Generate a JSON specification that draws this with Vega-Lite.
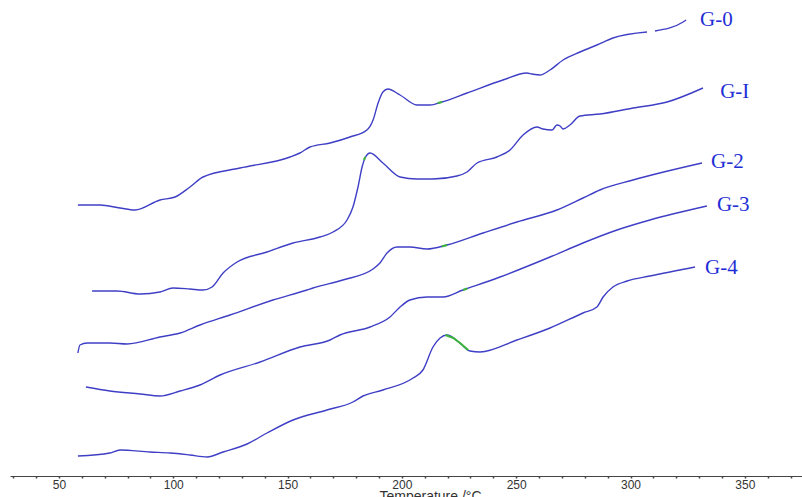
{
  "$schema": "https://vega.github.io/schema/vega-lite/v6.json",
  "autosize": {"type": "none"},
  "padding": {"left": 10, "top": 0, "right": 0, "bottom": 21},
  "width": 792,
  "height": 476,
  "background": "white",
  "config": {"view": {"stroke": null}, "axis": {"labelOverlap": false}},
  "datasets": {
    "curves": [
      {"s":"G-0","seg":"a","t":58.3,"v":271},{"s":"G-0","seg":"a","t":68.0,"v":271},{"s":"G-0","seg":"a","t":76.7,"v":268},{"s":"G-0","seg":"a","t":83.3,"v":266},{"s":"G-0","seg":"a","t":94.2,"v":276},{"s":"G-0","seg":"a","t":100.8,"v":279},{"s":"G-0","seg":"a","t":107.3,"v":289},{"s":"G-0","seg":"a","t":113.0,"v":299},{"s":"G-0","seg":"a","t":129.2,"v":308},{"s":"G-0","seg":"a","t":151.1,"v":319},{"s":"G-0","seg":"a","t":155.4,"v":323},{"s":"G-0","seg":"a","t":159.8,"v":329},{"s":"G-0","seg":"a","t":168.6,"v":333},{"s":"G-0","seg":"a","t":177.3,"v":339},{"s":"G-0","seg":"a","t":184.7,"v":346},{"s":"G-0","seg":"a","t":187.4,"v":356},{"s":"G-0","seg":"a","t":189.6,"v":373},{"s":"G-0","seg":"a","t":191.7,"v":384},{"s":"G-0","seg":"a","t":193.9,"v":387},{"s":"G-0","seg":"a","t":199.2,"v":381},{"s":"G-0","seg":"a","t":206.6,"v":371},{"s":"G-0","seg":"a","t":212.3,"v":371},{"s":"G-0","seg":"a","t":217.5,"v":374},{"s":"G-0","seg":"a","t":228.5,"v":383},{"s":"G-0","seg":"a","t":244.2,"v":396},{"s":"G-0","seg":"a","t":254.7,"v":403},{"s":"G-0","seg":"a","t":256.9,"v":402},{"s":"G-0","seg":"a","t":260.4,"v":401},{"s":"G-0","seg":"a","t":264.8,"v":406},{"s":"G-0","seg":"a","t":270.5,"v":416},{"s":"G-0","seg":"a","t":277.9,"v":424},{"s":"G-0","seg":"a","t":285.3,"v":431},{"s":"G-0","seg":"a","t":292.3,"v":438},{"s":"G-0","seg":"a","t":307.2,"v":444},
      {"s":"G-0","seg":"b","t":310.7,"v":445},{"s":"G-0","seg":"b","t":323.0,"v":454},{"s":"G-0","seg":"b","t":324.3,"v":456},
      {"s":"G-I","seg":"a","t":64.5,"v":185},{"s":"G-I","seg":"a","t":75.4,"v":185},{"s":"G-I","seg":"a","t":85.5,"v":182},{"s":"G-I","seg":"a","t":94.2,"v":184},{"s":"G-I","seg":"a","t":99.9,"v":188},{"s":"G-I","seg":"a","t":107.3,"v":187},{"s":"G-I","seg":"a","t":113.0,"v":186},{"s":"G-I","seg":"a","t":117.0,"v":189},{"s":"G-I","seg":"a","t":121.8,"v":203},{"s":"G-I","seg":"a","t":127.9,"v":214},{"s":"G-I","seg":"a","t":141.0,"v":224},{"s":"G-I","seg":"a","t":152.4,"v":233},{"s":"G-I","seg":"a","t":164.2,"v":239},{"s":"G-I","seg":"a","t":169.9,"v":244},{"s":"G-I","seg":"a","t":176.0,"v":256},{"s":"G-I","seg":"a","t":178.6,"v":269},{"s":"G-I","seg":"a","t":180.8,"v":289},{"s":"G-I","seg":"a","t":182.6,"v":309},{"s":"G-I","seg":"a","t":183.9,"v":318},{"s":"G-I","seg":"a","t":186.1,"v":323},{"s":"G-I","seg":"a","t":191.7,"v":313},{"s":"G-I","seg":"a","t":199.2,"v":299},{"s":"G-I","seg":"a","t":206.6,"v":297},{"s":"G-I","seg":"a","t":213.6,"v":297},{"s":"G-I","seg":"a","t":224.1,"v":300},{"s":"G-I","seg":"a","t":228.5,"v":304},{"s":"G-I","seg":"a","t":232.9,"v":313},{"s":"G-I","seg":"a","t":241.6,"v":319},{"s":"G-I","seg":"a","t":247.3,"v":326},{"s":"G-I","seg":"a","t":253.0,"v":341},{"s":"G-I","seg":"a","t":259.1,"v":349},{"s":"G-I","seg":"a","t":261.7,"v":347},{"s":"G-I","seg":"a","t":265.7,"v":346},{"s":"G-I","seg":"a","t":267.8,"v":351},{"s":"G-I","seg":"a","t":269.2,"v":350},{"s":"G-I","seg":"a","t":270.5,"v":347},{"s":"G-I","seg":"a","t":273.5,"v":351},{"s":"G-I","seg":"a","t":277.9,"v":360},{"s":"G-I","seg":"a","t":286.6,"v":362},{"s":"G-I","seg":"a","t":301.1,"v":368},{"s":"G-I","seg":"a","t":316.0,"v":374},{"s":"G-I","seg":"a","t":331.7,"v":388},
      {"s":"G-2","seg":"a","t":58.3,"v":123},{"s":"G-2","seg":"a","t":59.2,"v":131},{"s":"G-2","seg":"a","t":62.3,"v":133},{"s":"G-2","seg":"a","t":72.3,"v":133},{"s":"G-2","seg":"a","t":79.8,"v":132},{"s":"G-2","seg":"a","t":94.2,"v":139},{"s":"G-2","seg":"a","t":103.0,"v":143},{"s":"G-2","seg":"a","t":111.7,"v":151},{"s":"G-2","seg":"a","t":124.8,"v":161},{"s":"G-2","seg":"a","t":143.6,"v":176},{"s":"G-2","seg":"a","t":158.5,"v":186},{"s":"G-2","seg":"a","t":161.1,"v":188},{"s":"G-2","seg":"a","t":174.2,"v":196},{"s":"G-2","seg":"a","t":187.4,"v":207},{"s":"G-2","seg":"a","t":190.4,"v":213},{"s":"G-2","seg":"a","t":193.5,"v":223},{"s":"G-2","seg":"a","t":197.9,"v":229},{"s":"G-2","seg":"a","t":203.5,"v":229},{"s":"G-2","seg":"a","t":211.0,"v":227},{"s":"G-2","seg":"a","t":219.7,"v":231},{"s":"G-2","seg":"a","t":235.5,"v":243},{"s":"G-2","seg":"a","t":250.3,"v":254},{"s":"G-2","seg":"a","t":267.8,"v":266},{"s":"G-2","seg":"a","t":279.2,"v":278},{"s":"G-2","seg":"a","t":286.6,"v":286},{"s":"G-2","seg":"a","t":301.1,"v":296},{"s":"G-2","seg":"a","t":331.3,"v":313},
      {"s":"G-3","seg":"a","t":61.8,"v":89},{"s":"G-3","seg":"a","t":72.3,"v":85},{"s":"G-3","seg":"a","t":85.5,"v":82},{"s":"G-3","seg":"a","t":94.2,"v":80},{"s":"G-3","seg":"a","t":103.0,"v":85},{"s":"G-3","seg":"a","t":111.7,"v":91},{"s":"G-3","seg":"a","t":120.5,"v":101},{"s":"G-3","seg":"a","t":138.0,"v":114},{"s":"G-3","seg":"a","t":155.4,"v":129},{"s":"G-3","seg":"a","t":168.6,"v":136},{"s":"G-3","seg":"a","t":172.9,"v":141},{"s":"G-3","seg":"a","t":186.1,"v":149},{"s":"G-3","seg":"a","t":194.8,"v":159},{"s":"G-3","seg":"a","t":199.2,"v":169},{"s":"G-3","seg":"a","t":203.5,"v":176},{"s":"G-3","seg":"a","t":211.0,"v":179},{"s":"G-3","seg":"a","t":218.0,"v":179},{"s":"G-3","seg":"a","t":226.7,"v":186},{"s":"G-3","seg":"a","t":242.9,"v":199},{"s":"G-3","seg":"a","t":264.8,"v":219},{"s":"G-3","seg":"a","t":279.2,"v":233},{"s":"G-3","seg":"a","t":294.1,"v":246},{"s":"G-3","seg":"a","t":308.5,"v":256},{"s":"G-3","seg":"a","t":333.4,"v":270},
      {"s":"G-4","seg":"a","t":58.3,"v":20},{"s":"G-4","seg":"a","t":72.3,"v":23},{"s":"G-4","seg":"a","t":76.7,"v":26},{"s":"G-4","seg":"a","t":89.8,"v":24},{"s":"G-4","seg":"a","t":98.6,"v":23},{"s":"G-4","seg":"a","t":107.3,"v":21},{"s":"G-4","seg":"a","t":114.8,"v":19},{"s":"G-4","seg":"a","t":121.8,"v":24},{"s":"G-4","seg":"a","t":132.3,"v":32},{"s":"G-4","seg":"a","t":141.0,"v":43},{"s":"G-4","seg":"a","t":152.4,"v":56},{"s":"G-4","seg":"a","t":167.2,"v":66},{"s":"G-4","seg":"a","t":178.6,"v":74},{"s":"G-4","seg":"a","t":183.0,"v":80},{"s":"G-4","seg":"a","t":191.7,"v":86},{"s":"G-4","seg":"a","t":204.9,"v":98},{"s":"G-4","seg":"a","t":209.2,"v":106},{"s":"G-4","seg":"a","t":213.6,"v":129},{"s":"G-4","seg":"a","t":216.7,"v":138},{"s":"G-4","seg":"a","t":219.7,"v":141},{"s":"G-4","seg":"a","t":225.4,"v":133},{"s":"G-4","seg":"a","t":229.8,"v":125},{"s":"G-4","seg":"a","t":234.2,"v":124},{"s":"G-4","seg":"a","t":250.3,"v":136},{"s":"G-4","seg":"a","t":264.8,"v":148},{"s":"G-4","seg":"a","t":279.2,"v":163},{"s":"G-4","seg":"a","t":285.3,"v":169},{"s":"G-4","seg":"a","t":288.0,"v":179},{"s":"G-4","seg":"a","t":292.3,"v":189},{"s":"G-4","seg":"a","t":298.5,"v":195},{"s":"G-4","seg":"a","t":308.5,"v":200},{"s":"G-4","seg":"a","t":328.2,"v":209}
    ],
    "marks": [
      {"s":"G-0","t":215.6,"v":373},{"s":"G-0","t":217.6,"v":374},
      {"s":"G-I","t":183.4,"v":316},{"s":"G-I","t":184.0,"v":319},
      {"s":"G-2","t":217.4,"v":229.5},{"s":"G-2","t":219.8,"v":231},
      {"s":"G-3","t":226.8,"v":186},{"s":"G-3","t":228.6,"v":187.5},
      {"s":"G-4","t":219.0,"v":141},{"s":"G-4","t":222.5,"v":138},{"s":"G-4","t":225.4,"v":133},{"s":"G-4","t":229.0,"v":126}
    ],
    "labels": [
      {"name":"G-0","t":330.4,"v":456},
      {"name":"G-I","t":339.2,"v":384},
      {"name":"G-2","t":335.2,"v":314},
      {"name":"G-3","t":337.8,"v":271},
      {"name":"G-4","t":332.6,"v":208}
    ]
  },
  "encoding": {
    "x": {
      "field": "t", "type": "quantitative",
      "scale": {"domain": [28.6, 375], "nice": false, "zero": false},
      "axis": {
        "title": "Temperature /°C",
        "values": [30,40,50,60,70,80,90,100,110,120,130,140,150,160,170,180,190,200,210,220,230,240,250,260,270,280,290,300,310,320,330,340,350,360,370],
        "labelExpr": "datum.value % 50 === 0 ? format(datum.value, 'd') : ''",
        "labelOverlap": false,
        "labelSeparation": 0,
        "grid": false,
        "domainColor": "#444",
        "domainWidth": 1,
        "tickColor": "#444",
        "tickSize": 2,
        "tickWidth": 1.5,
        "labelFont": "Liberation Sans",
        "labelFontSize": 12,
        "labelColor": "#333",
        "labelPadding": 1,
        "labelFlush": false,
        "titleFont": "Liberation Sans",
        "titleFontSize": 14,
        "titleFontWeight": "normal",
        "titleColor": "#333",
        "titleX": 420,
        "titleY": 13,
        "titleBaseline": "top"
      }
    },
    "y": {"field": "v", "type": "quantitative", "scale": {"domain": [0, 476], "nice": false}, "axis": null}
  },
  "layer": [
    {
      "data": {"name": "curves"},
      "mark": {"type": "line", "interpolate": "monotone", "strokeWidth": 1.4, "color": "#3f3fc6"},
      "encoding": {
        "detail": [{"field": "s"}, {"field": "seg"}]
      }
    },
    {
      "data": {"name": "marks"},
      "mark": {"type": "line", "strokeWidth": 2, "color": "#3cb43c"},
      "encoding": {
        "detail": {"field": "s"}
      }
    },
    {
      "data": {"name": "labels"},
      "mark": {"type": "text", "align": "left", "baseline": "middle", "font": "Liberation Serif", "fontSize": 21, "color": "#1f2fd6"},
      "encoding": {
        "text": {"field": "name"}
      }
    }
  ]
}
